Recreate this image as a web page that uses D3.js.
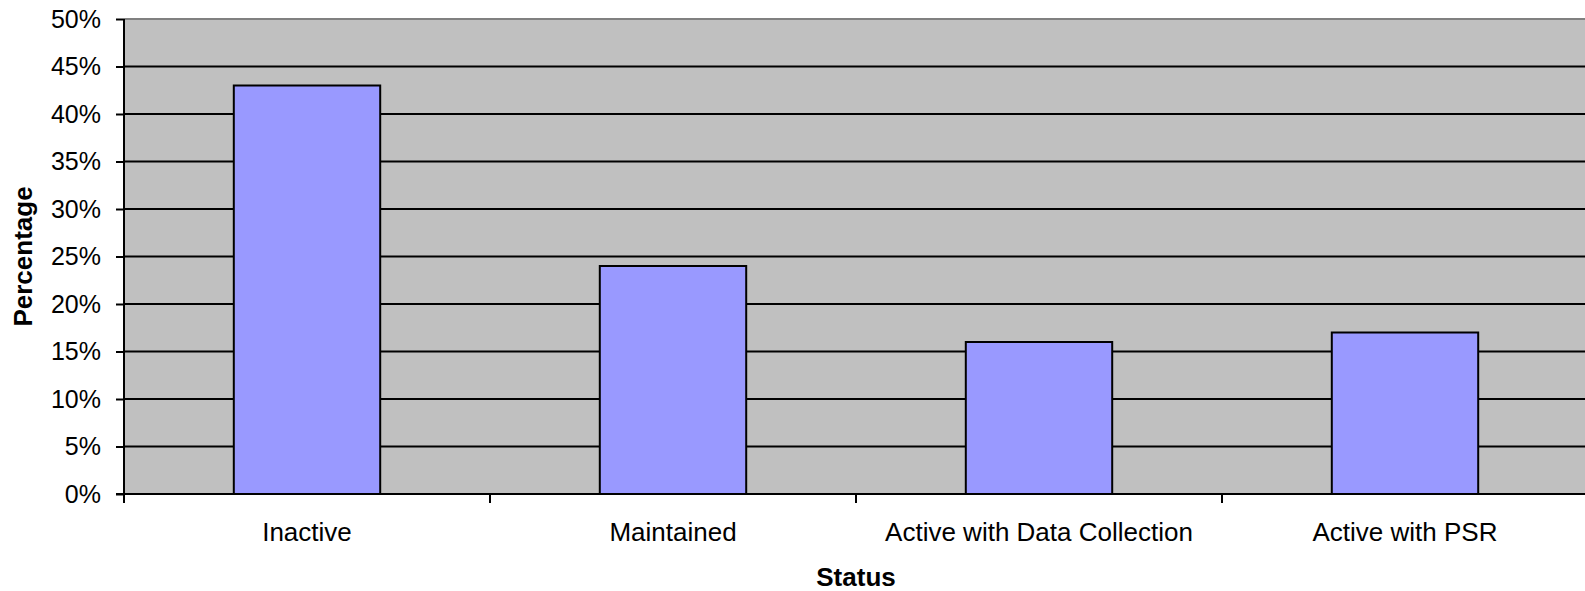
<!DOCTYPE html>
<html>
<head>
<meta charset="utf-8">
<script src="https://cdn.jsdelivr.net/npm/d3@7"></script>
<style>
    body { margin: 0; background: #fff; }
    text { font-family: "Liberation Sans", Arial, sans-serif; fill: #000; }
</style>
</head>
<body>
<svg width="1585" height="591"></svg>
<script>
var categories = ["Inactive", "Maintained", "Active with Data Collection", "Active with PSR"]
var percentages = [0.43, 0.24, 0.16, 0.17]
var y_ticks = [0, 0.05, 0.10, 0.15, 0.20, 0.25, 0.30, 0.35, 0.40, 0.45, 0.50]
var x_title = "Status"
var y_title = "Percentage"

function setup_svg() {
    var svg = d3.select("svg"),
        margin = { top: 19, right: -3, bottom: 97, left: 124 },
        width = +svg.attr("width") - margin.left - margin.right,
        height = +svg.attr("height") - margin.top - margin.bottom,
        g = svg.append("g").attr("transform", "translate(" + margin.left + "," + margin.top + ")")
    return { svg, g, width, height, margin }
}

function draw_chart() {
    var { svg, g, width, height, margin } = setup_svg()

    // outer scale = category slots (ticks sit on their edges)
    var x_slot = d3.scaleBand().domain(categories).range([0, width]).padding(0)
    // bars: Excel-style gap width of 150%
    var x_bar = d3.scaleBand().domain(categories).range([0, width])
        .paddingInner(0.6).paddingOuter(0.3)
    var y_scale = d3.scaleLinear().domain([0, 0.5]).range([height, 0])

    // plot background
    g.append("rect")
        .attr("x", 0).attr("y", 0)
        .attr("width", width).attr("height", height)
        .attr("fill", "#c0c0c0")

    // gridlines
    g.selectAll(".grid")
        .data(y_ticks.filter(function (d) { return d > 0 }))
        .enter().append("line")
        .attr("x1", 0).attr("x2", width)
        .attr("y1", function (d) { return y_scale(d) })
        .attr("y2", function (d) { return y_scale(d) })
        .attr("stroke", function (d) { return d >= 0.5 ? "#808080" : "#000" })
        .attr("stroke-width", 2)

    // bars
    g.selectAll(".bar")
        .data(percentages)
        .enter().append("rect")
        .attr("x", function (d, i) { return x_bar(categories[i]) })
        .attr("y", function (d) { return y_scale(d) })
        .attr("width", x_bar.bandwidth())
        .attr("height", function (d) { return height - y_scale(d) })
        .attr("fill", "#9999ff")
        .attr("stroke", "#000")
        .attr("stroke-width", 2)

    // y axis
    var y_axis = g.append("g")
        .call(d3.axisLeft(y_scale)
            .tickValues(y_ticks)
            .tickFormat(d3.format(".0%"))
            .tickSize(8)
            .tickPadding(15))
    y_axis.select(".domain").remove()
    y_axis.selectAll("line").attr("stroke", "#000").attr("stroke-width", 2)
    y_axis.selectAll("text")
        .style("font-family", "'Liberation Sans', Arial, sans-serif")
        .style("font-size", "25px")
        .attr("fill", "#000")

    g.append("line")
        .attr("x1", 0).attr("x2", 0)
        .attr("y1", 0).attr("y2", height + 9)
        .attr("stroke", "#000").attr("stroke-width", 2)

    // x axis
    g.append("line")
        .attr("x1", -8).attr("x2", width)
        .attr("y1", height).attr("y2", height)
        .attr("stroke", "#000").attr("stroke-width", 2)

    var slot_edges = categories.map(function (c) { return x_slot(c) }).concat([width])
    g.selectAll(".xtick")
        .data(slot_edges)
        .enter().append("line")
        .attr("x1", function (d) { return d }).attr("x2", function (d) { return d })
        .attr("y1", height).attr("y2", height + 9)
        .attr("stroke", "#000").attr("stroke-width", 2)

    g.selectAll(".xlabel")
        .data(categories)
        .enter().append("text")
        .attr("x", function (d) { return x_slot(d) + x_slot.bandwidth() / 2 })
        .attr("y", height + 47)
        .attr("text-anchor", "middle")
        .style("font-size", "26px")
        .text(function (d) { return d })

    // axis titles
    svg.append("text")
        .attr("x", margin.left + width / 2)
        .attr("y", 586)
        .attr("text-anchor", "middle")
        .style("font-size", "26px")
        .style("font-weight", "bold")
        .text(x_title)

    svg.append("text")
        .attr("transform", "translate(32," + (margin.top + height / 2) + ") rotate(-90)")
        .attr("text-anchor", "middle")
        .style("font-size", "26px")
        .style("font-weight", "bold")
        .text(y_title)
}

draw_chart()
</script>
</body>
</html>
